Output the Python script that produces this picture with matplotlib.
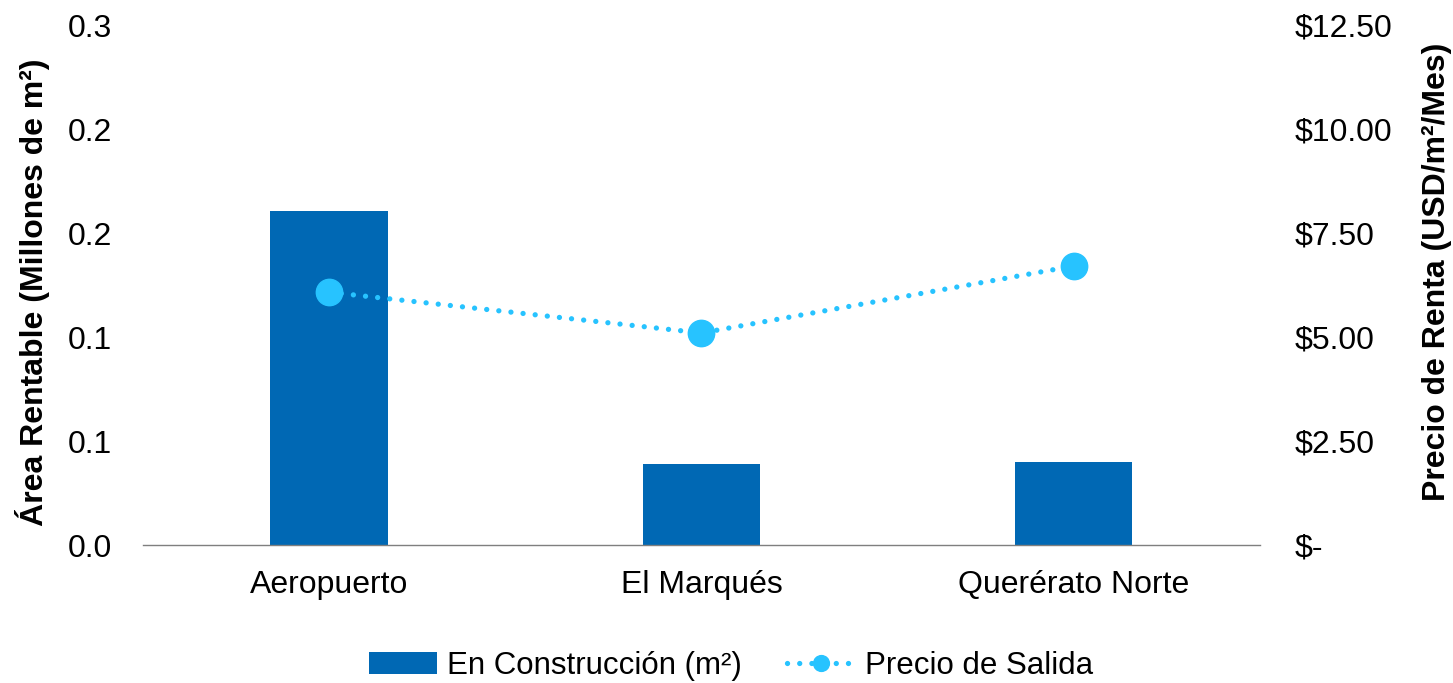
import numpy as np
import matplotlib.pyplot as plt
from matplotlib.ticker import FixedLocator, FuncFormatter

plt.rcParams['font.family'] = ['Liberation Sans', 'DejaVu Sans']

# Submercados y valores
zonas = ['Aeropuerto', 'El Marqués', 'Querérato Norte']
en_construccion = [0.1927, 0.0467, 0.0479]   # millones de m²
precio_salida = [6.08, 5.10, 6.71]           # USD/m²/mes

azul = '#0068B4'
celeste = '#27C3FF'
fs = 23

fig = plt.figure(figsize=(14.53, 6.83), dpi=100)
ax = fig.add_axes([0.0984, 0.202, 0.7687, 0.761])
ax2 = ax.twinx()

x = np.arange(len(zonas))
ax.bar(x, en_construccion, width=0.315, color=azul, label='En Construcción (m²)', zorder=2)
ax2.plot(x, precio_salida, ls=(0, (0.01, 2.3)), lw=3.8, dash_capstyle='round',
         color=celeste, marker='o', ms=19, label='Precio de Salida', zorder=3)

ax.set_xlim(-0.5, 2.5)
ax.set_ylim(0, 0.3)
ax2.set_ylim(0, 12.5)
ax.yaxis.set_major_locator(FixedLocator(np.linspace(0, 0.3, 6)))
ax.yaxis.set_major_formatter(FuncFormatter(lambda v, p: '%.1f' % v))
ax2.yaxis.set_major_locator(FixedLocator(np.arange(0, 12.51, 2.5)))
ax2.yaxis.set_major_formatter(FuncFormatter(lambda v, p: '$-' if v == 0 else '${:,.2f}'.format(v)))

ax.set_xticks(x)
ax.set_xticklabels(zonas)
for a in (ax, ax2):
    for s in ('top', 'right', 'left', 'bottom'):
        a.spines[s].set_visible(False)
    a.tick_params(axis='both', length=0, labelsize=fs)
ax.spines['bottom'].set_visible(True)
ax.spines['bottom'].set_color('#7F7F7F')
ax.spines['bottom'].set_linewidth(1)
ax.tick_params(axis='x', pad=18)
ax.tick_params(axis='y', pad=22)
ax2.tick_params(axis='y', pad=25)

ax.set_ylabel('Área Rentable (Millones de m²)', fontsize=fs, fontweight='bold')
ax2.set_ylabel('Precio de Renta (USD/m²/Mes)', fontsize=fs, fontweight='bold')
ax.yaxis.set_label_coords(-0.083, 0.487)
ax2.yaxis.set_label_coords(1.145, 0.525)

h1, l1 = ax.get_legend_handles_labels()
h2, l2 = ax2.get_legend_handles_labels()
fig.legend(h1 + h2, l1 + l2, loc='center', bbox_to_anchor=(0.503, 0.025), ncol=2,
           frameon=False, fontsize=22.5, handlelength=2.2, columnspacing=1.45,
           handletextpad=0.3, markerscale=0.6)

fig.savefig('out.png', dpi=100)
